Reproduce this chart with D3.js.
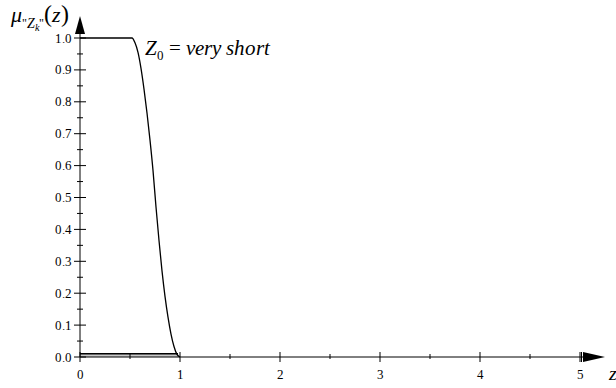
<!DOCTYPE html>
<html>
<head>
<meta charset="utf-8">
<script src="https://cdn.jsdelivr.net/npm/d3@7"></script>
<style>
  @font-face { font-family: "ChartSerif"; src: local("Liberation Serif"), local("LiberationSerif-Regular"), local("DejaVu Serif"); font-style: normal; }
  @font-face { font-family: "ChartSerif"; src: local("Liberation Serif Italic"), local("LiberationSerif-Italic"), local("DejaVu Serif Italic"); font-style: italic; }
  body { margin: 0; background: #fff; }
  svg text { font-family: "ChartSerif", "Liberation Serif", "Times New Roman", Times, "DejaVu Serif", serif; fill: #000; }
</style>
</head>
<body>
<div id="viz"></div>
<script>
// membership curve "very short"
var zVals  = [0, 0.52, 0.55, 0.58, 0.61, 0.64, 0.67, 0.70, 0.73, 0.76, 0.79, 0.82, 0.85, 0.88, 0.91, 0.94, 0.97, 1.0];
var muVals = [1, 1, 0.985, 0.955, 0.905, 0.84, 0.765, 0.68, 0.585, 0.47, 0.365, 0.27, 0.19, 0.125, 0.072, 0.033, 0.008, 0];

// thin base band near zero
var baseZ = [0, 0.98];
var baseMu = 0.01;

var yTicks = [0, 0.1, 0.2, 0.3, 0.4, 0.5, 0.6, 0.7, 0.8, 0.9, 1.0];
var yMinor = [0.05, 0.15, 0.25, 0.35, 0.45, 0.55, 0.65, 0.75, 0.85, 0.95];
var xTicks = [0, 1, 2, 3, 4, 5];
var xMinor = [0.5, 1.5, 2.5, 3.5, 4.5];

var width = 616,
    height = 388;

var x = d3.scaleLinear().domain([0, 5]).range([80, 580]);
var y = d3.scaleLinear().domain([0, 1]).range([357, 38]);

var svg = d3.select("#viz").append("svg")
    .attr("width", width)
    .attr("height", height);

// base band
svg.append("rect")
    .attr("x", x(baseZ[0]))
    .attr("y", y(baseMu))
    .attr("width", x(baseZ[1]) - x(baseZ[0]))
    .attr("height", y(0) - y(baseMu))
    .attr("fill", "#c8c8c8");
svg.append("line")
    .attr("x1", x(baseZ[0])).attr("x2", x(baseZ[1]))
    .attr("y1", y(baseMu)).attr("y2", y(baseMu))
    .attr("stroke", "#000").attr("stroke-width", 1.5);

// axes lines
svg.append("line")
    .attr("x1", x(0)).attr("x2", 590)
    .attr("y1", y(0)).attr("y2", y(0))
    .attr("stroke", "#000").attr("stroke-width", 1);
svg.append("line")
    .attr("x1", x(0)).attr("x2", x(0))
    .attr("y1", y(0)).attr("y2", 28)
    .attr("stroke", "#000").attr("stroke-width", 1);

// arrows
svg.append("path")
    .attr("d", "M583," + (y(0) - 5) + " L605," + y(0) + " L583," + (y(0) + 5) + " Z")
    .attr("fill", "#000");
svg.append("path")
    .attr("d", "M" + (x(0) - 5) + ",34 L" + x(0) + ",16 L" + (x(0) + 5) + ",34 Z")
    .attr("fill", "#000");
svg.append("line")
    .attr("x1", 581.5).attr("x2", 581.5)
    .attr("y1", y(0) - 5).attr("y2", y(0) + 5)
    .attr("stroke", "#000");

// y ticks
svg.selectAll(".ymaj").data(yTicks).enter().append("line")
    .attr("x1", x(0) - 6).attr("x2", x(0) + 6)
    .attr("y1", function(d) { return y(d); })
    .attr("y2", function(d) { return y(d); })
    .attr("stroke", "#000");
svg.selectAll(".ymin").data(yMinor).enter().append("line")
    .attr("x1", x(0) - 3).attr("x2", x(0) + 3)
    .attr("y1", function(d) { return y(d); })
    .attr("y2", function(d) { return y(d); })
    .attr("stroke", "#000");
svg.selectAll(".ylab").data(yTicks).enter().append("text")
    .attr("x", x(0) - 8)
    .attr("y", function(d) { return y(d) + 4.5; })
    .attr("text-anchor", "end")
    .style("font-size", "13px")
    .text(function(d) { return d3.format(".1f")(d); });

// x ticks
svg.selectAll(".xmaj").data(xTicks).enter().append("line")
    .attr("x1", function(d) { return x(d); })
    .attr("x2", function(d) { return x(d); })
    .attr("y1", y(0) - 5).attr("y2", y(0) + 5)
    .attr("stroke", "#000");
svg.selectAll(".xmin").data(xMinor).enter().append("line")
    .attr("x1", function(d) { return x(d); })
    .attr("x2", function(d) { return x(d); })
    .attr("y1", y(0) - 3).attr("y2", y(0) + 2)
    .attr("stroke", "#000");
svg.selectAll(".xlab").data(xTicks).enter().append("text")
    .attr("x", function(d) { return x(d); })
    .attr("y", 379)
    .attr("text-anchor", "middle")
    .style("font-size", "13px")
    .text(function(d) { return d; });

// curve
var line = d3.line()
    .x(function(d, i) { return x(zVals[i]); })
    .y(function(d, i) { return y(muVals[i]); })
    .curve(d3.curveMonotoneX);
svg.append("path")
    .attr("d", line(zVals))
    .attr("fill", "none")
    .attr("stroke", "#000")
    .attr("stroke-width", 1.3);

// axis titles
svg.append("text")
    .attr("x", 609).attr("y", 380)
    .style("font-size", "20px").style("font-style", "italic")
    .text("z");

var t = svg.append("text").attr("x", 11).attr("y", 22);
t.append("tspan").style("font-size", "22px").style("font-style", "italic").text("μ");
t.append("tspan").attr("dy", 6).style("font-size", "12px").text("\"");
t.append("tspan").style("font-size", "14px").style("font-style", "italic").text("Z");
t.append("tspan").attr("dy", 3).style("font-size", "10px").style("font-style", "italic").text("k");
t.append("tspan").attr("dy", -3).style("font-size", "12px").text("\"");
t.append("tspan").attr("dy", -6).style("font-size", "24px").text("(");
t.append("tspan").style("font-size", "22px").style("font-style", "italic").text("z");
t.append("tspan").style("font-size", "24px").text(")");

// annotation
var a = svg.append("text").attr("x", 145).attr("y", 55);
a.append("tspan").style("font-size", "21px").style("font-style", "italic").text("Z");
a.append("tspan").attr("dy", 5).style("font-size", "13px").text("0");
a.append("tspan").attr("dy", -5).style("font-size", "21px").text(" = ");
a.append("tspan").style("font-size", "21px").style("font-style", "italic").text("very short");
</script>
</body>
</html>
